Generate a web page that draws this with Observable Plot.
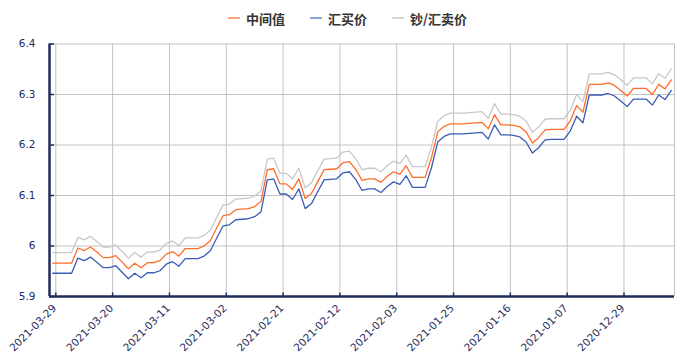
<!DOCTYPE html>
<html>
<head>
<meta charset="utf-8">
<script src="https://cdn.jsdelivr.net/npm/d3@7"></script>
<script src="https://cdn.jsdelivr.net/npm/@observablehq/plot@0.6"></script>
<style>
  html, body { margin: 0; padding: 0; background: #fff; }
  #wrap { position: relative; width: 685px; height: 359px; overflow: hidden; }
  #legend { position: absolute; left: 228px; top: 8px; height: 20px; display: flex; align-items: center;
    font-family: "Noto Sans CJK SC", sans-serif; font-weight: bold; font-size: 13px; color: #333; }
  #legend .item { display: flex; align-items: center; margin-right: 25px; }
  #legend .sw { width: 12px; height: 2px; margin-right: 6px; }
  #chart { position: absolute; left: 0; top: 30px; }
</style>
</head>
<body>
<div id="wrap">
  <div id="legend"></div>
  <div id="chart"></div>
</div>
<script>
const dates = ["2021-03-29","2021-03-28","2021-03-27","2021-03-26","2021-03-25","2021-03-24","2021-03-23","2021-03-22","2021-03-21","2021-03-20",
"2021-03-19","2021-03-18","2021-03-17","2021-03-16","2021-03-15","2021-03-14","2021-03-13","2021-03-12","2021-03-11","2021-03-10",
"2021-03-09","2021-03-08","2021-03-07","2021-03-06","2021-03-05","2021-03-04","2021-03-03","2021-03-02","2021-03-01","2021-02-28",
"2021-02-27","2021-02-26","2021-02-25","2021-02-24","2021-02-23","2021-02-22","2021-02-21","2021-02-20","2021-02-19","2021-02-18",
"2021-02-17","2021-02-16","2021-02-15","2021-02-14","2021-02-13","2021-02-12","2021-02-11","2021-02-10","2021-02-09","2021-02-08",
"2021-02-07","2021-02-06","2021-02-05","2021-02-04","2021-02-03","2021-02-02","2021-02-01","2021-01-31","2021-01-30","2021-01-29",
"2021-01-28","2021-01-27","2021-01-26","2021-01-25","2021-01-24","2021-01-23","2021-01-22","2021-01-21","2021-01-20","2021-01-19",
"2021-01-18","2021-01-17","2021-01-16","2021-01-15","2021-01-14","2021-01-13","2021-01-12","2021-01-11","2021-01-10","2021-01-09",
"2021-01-08","2021-01-07","2021-01-06","2021-01-05","2021-01-04","2021-01-03","2021-01-02","2021-01-01","2020-12-31","2020-12-30",
"2020-12-29","2020-12-28","2020-12-27","2020-12-26","2020-12-25","2020-12-24","2020-12-23","2020-12-22","2020-12-21"];

const mid = [5.966,5.966,5.966,5.966,5.996,5.991,5.998,5.988,5.977,5.977,
5.981,5.968,5.955,5.966,5.957,5.967,5.967,5.971,5.984,5.989,
5.980,5.995,5.995,5.995,6.000,6.011,6.036,6.060,6.062,6.072,
6.073,6.074,6.078,6.088,6.151,6.153,6.123,6.123,6.112,6.133,
6.094,6.104,6.128,6.151,6.152,6.153,6.165,6.167,6.152,6.130,
6.133,6.133,6.126,6.138,6.147,6.142,6.159,6.136,6.136,6.136,
6.175,6.226,6.237,6.242,6.242,6.242,6.243,6.244,6.245,6.232,
6.260,6.240,6.240,6.239,6.236,6.226,6.204,6.215,6.230,6.231,
6.231,6.231,6.248,6.278,6.265,6.320,6.320,6.320,6.323,6.318,
6.308,6.297,6.312,6.312,6.312,6.300,6.320,6.311,6.329];

const buy = [5.946,5.946,5.946,5.946,5.976,5.971,5.978,5.968,5.957,5.957,
5.961,5.948,5.935,5.946,5.937,5.947,5.947,5.951,5.964,5.969,
5.960,5.975,5.975,5.975,5.980,5.991,6.016,6.040,6.042,6.052,
6.053,6.054,6.058,6.068,6.131,6.133,6.103,6.103,6.092,6.113,
6.074,6.084,6.108,6.131,6.132,6.133,6.145,6.147,6.132,6.110,
6.113,6.113,6.106,6.118,6.127,6.122,6.139,6.116,6.116,6.116,
6.155,6.206,6.217,6.222,6.222,6.222,6.223,6.224,6.225,6.212,
6.240,6.220,6.220,6.219,6.216,6.206,6.184,6.195,6.210,6.211,
6.211,6.211,6.228,6.257,6.244,6.299,6.299,6.299,6.302,6.297,
6.287,6.276,6.291,6.291,6.291,6.279,6.299,6.290,6.308];

const sell = [5.987,5.987,5.987,5.987,6.017,6.012,6.019,6.009,5.998,5.998,
6.002,5.989,5.976,5.987,5.978,5.988,5.988,5.992,6.005,6.010,
6.001,6.016,6.016,6.016,6.021,6.032,6.057,6.081,6.083,6.093,
6.094,6.095,6.099,6.109,6.172,6.174,6.144,6.144,6.133,6.154,
6.115,6.125,6.149,6.172,6.173,6.174,6.186,6.188,6.173,6.151,
6.154,6.154,6.147,6.159,6.168,6.163,6.180,6.157,6.157,6.157,
6.196,6.247,6.258,6.263,6.263,6.263,6.264,6.265,6.266,6.253,
6.282,6.261,6.261,6.260,6.257,6.247,6.225,6.236,6.251,6.252,
6.252,6.252,6.269,6.300,6.286,6.341,6.341,6.341,6.344,6.339,
6.329,6.318,6.333,6.333,6.333,6.321,6.341,6.332,6.351];

const seriesNames = ["中间值", "汇买价", "钞/汇卖价"];
const seriesColors = ["#ff6d2a", "#3a5cb5", "#c8c8c8"];
const legendColors = ["#f9a37e", "#8fa2d6", "#d6d6d6"];
const yTicks = [5.9, 6.0, 6.1, 6.2, 6.3, 6.4];
const yTickLabels = ["5.9", "6", "6.1", "6.2", "6.3", "6.4"];
const xLabelDates = ["2021-03-29","2021-03-20","2021-03-11","2021-03-02","2021-02-21","2021-02-12","2021-02-03","2021-01-25","2021-01-16","2021-01-07","2020-12-29"];

const navy = "#1f2b5b";
const idx = dates.map((d, i) => i);
const rows = [];
[mid, buy, sell].forEach((arr, s) => arr.forEach((v, i) => rows.push({i, v, s: seriesNames[s]})));
const labelIdx = xLabelDates.map(d => dates.indexOf(d));
const gridX = labelIdx.map(i => i + 0.5).concat([dates.length - 0.5]);
const tickX = labelIdx.map(i => i + 0.5);

// legend
const lg = document.getElementById("legend");
seriesNames.forEach((n, k) => {
  const it = document.createElement("div"); it.className = "item";
  const sw = document.createElement("div"); sw.className = "sw"; sw.style.background = legendColors[k];
  const tx = document.createElement("span"); tx.textContent = n;
  it.appendChild(sw); it.appendChild(tx); lg.appendChild(it);
});

const chart = Plot.plot({
  width: 685,
  height: 329,
  marginLeft: 49,
  marginRight: 11,
  marginTop: 13.5,
  marginBottom: 63,
  style: {background: "transparent"},
  x: {type: "linear", domain: [-0.5, dates.length - 0.5], axis: null},
  y: {domain: [5.9, 6.4], axis: null},
  color: {domain: seriesNames, range: seriesColors},
  marks: [
    Plot.ruleX(gridX, {x: d => d, stroke: "#c3c3c3", strokeWidth: 1}),
    Plot.ruleY(yTicks.slice(1), {y: d => d, stroke: "#c3c3c3", strokeWidth: 1}),
    Plot.line(rows.filter(r => r.s === seriesNames[2]), {x: "i", y: "v", stroke: "s", strokeWidth: 1.3}),
    Plot.line(rows.filter(r => r.s === seriesNames[0]), {x: "i", y: "v", stroke: "s", strokeWidth: 1.3}),
    Plot.line(rows.filter(r => r.s === seriesNames[1]), {x: "i", y: "v", stroke: "s", strokeWidth: 1.3}),
    Plot.ruleY(yTicks, {y: d => d, x1: -0.5, x2: 0.3, stroke: navy, strokeWidth: 1.5}),
    Plot.ruleX(tickX, {x: d => d, y1: 5.9, y2: 5.907, stroke: navy, strokeWidth: 1.5}),
    Plot.ruleX([-0.5], {x: d => d, stroke: navy, strokeWidth: 2.5}),
    Plot.ruleY([5.9], {y: d => d, stroke: navy, strokeWidth: 2.5}),
    Plot.text(yTicks, {x: -0.5, y: d => d, text: (d, k) => yTickLabels[k], textAnchor: "end", dx: -14,
      fill: navy, fontSize: 10.5, fontFamily: "DejaVu Sans, Verdana, sans-serif"}),
    Plot.text(labelIdx, {x: d => d, y: 5.9, text: d => dates[d], rotate: -45, textAnchor: "end",
      dx: 2, dy: 10, fill: navy, fontSize: 10.5, fontFamily: "DejaVu Sans, Verdana, sans-serif"})
  ]
});
document.getElementById("chart").appendChild(chart);
</script>
</body>
</html>
